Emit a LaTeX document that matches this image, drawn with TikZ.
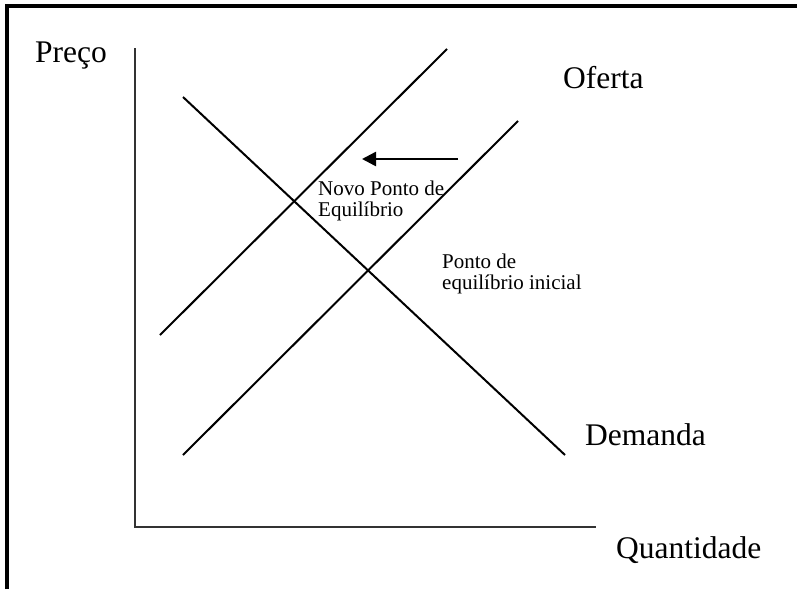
\documentclass[tikz,border=0pt]{standalone}
\usepackage{fontspec}
\setmainfont{Liberation Serif}
\usetikzlibrary{arrows.meta,positioning,calc}
\tikzset{axis/.style={line width=2pt,black!80},curve/.style={line width=2pt},moveleft/.style={-{Triangle[length=14pt,width=14pt]},line width=2.5pt},frame/.style={line width=3.5pt},biglabel/.style={anchor=base west,inner sep=0pt,font=\fontsize{31.5}{34}\selectfont},smalllabel/.style={anchor=base west,inner sep=0pt,align=left,font=\fontsize{21}{21}\selectfont},every picture/.style={line cap=butt}}
\begin{document}
\begin{tikzpicture}[x=1pt,y=-1pt]
\useasboundingbox (0,0) rectangle (797,589);
\draw[frame] (7,589)--(7,6)--(797,6);
% axes
\coordinate (O) at (135,527);
\coordinate (Ptop) at (135,48);
\coordinate (Qend) at (596,527);
\draw[axis] (Ptop)--(O)--(Qend);
% curves
\coordinate (D1) at (183,97); \coordinate (D2) at (565,455);
\coordinate (S1a) at (183,455); \coordinate (S1b) at (518,121);
\coordinate (S2a) at (160,335); \coordinate (S2b) at (447,49);
\draw[curve] (D1)--(D2);
\draw[curve] (S1a)--(S1b);
\draw[curve] (S2a)--(S2b);
\coordinate (A1) at (458,159); \coordinate (A2) at (362,159);
\draw[moveleft] (A1)--(A2);
% labels
\node[biglabel] (preco) at (35,62) {Preço};
\node[biglabel] (quant) at (616,558) {Quantidade};
\node[biglabel] (oferta) at (563,88) {Oferta};
\node[biglabel] (demanda) at (585,445) {Demanda};
\node[smalllabel] (novo) at (318,216) {Novo Ponto de\\Equilíbrio};
\node[smalllabel] (inicial) at (442,289) {Ponto de\\equilíbrio inicial};
\end{tikzpicture}
\end{document}
